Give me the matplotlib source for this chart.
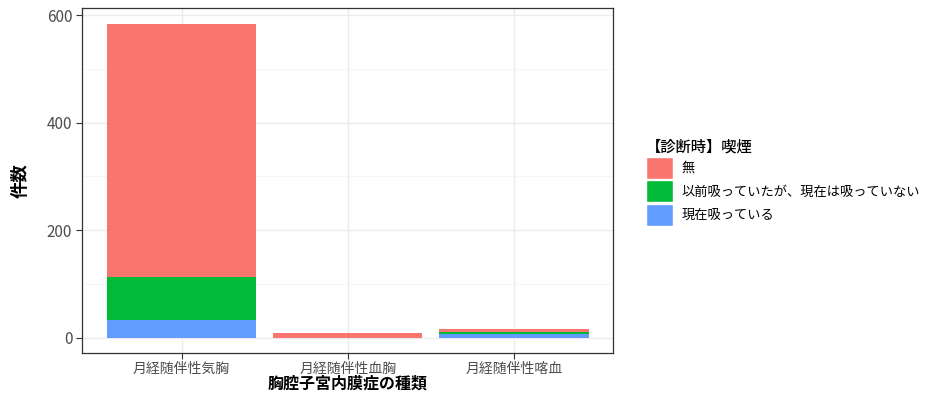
import matplotlib.pyplot as plt
from matplotlib.patches import Patch
from matplotlib.ticker import MultipleLocator

plt.rcParams['font.family'] = ['Noto Sans CJK JP', 'DejaVu Sans']

# データ
categories = ['月経随伴性気胸', '月経随伴性血胸', '月経随伴性喀血']
groups = ['無', '以前吸っていたが、現在は吸っていない', '現在吸っている']
current = [33, 0, 6]    # 現在吸っている
former = [79, 0, 5]     # 以前吸っていたが、現在は吸っていない
never = [472, 8, 6]     # 無
colors = ['#F8766D', '#00BA38', '#619CFF']

fig = plt.figure(figsize=(9.39, 3.98), dpi=100)
ax = fig.add_axes([0.0873, 0.112, 0.566, 0.868])

x = range(len(categories))
# 下から 現在 → 以前 → 無 の順に積み上げ
ax.bar(x, current, width=0.9, color=colors[2], zorder=3)
ax.bar(x, former, width=0.9, bottom=current, color=colors[1], zorder=3)
base = [c + f for c, f in zip(current, former)]
ax.bar(x, never, width=0.9, bottom=base, color=colors[0], zorder=3)

total = max(b + n for b, n in zip(base, never))
ax.set_xlim(-0.6, len(categories) - 0.4)
ax.set_ylim(-0.05 * total, total * 1.05)

ax.set_xticks(list(x))
ax.set_xticklabels(categories, fontsize=10, color='#4d4d4d')
ax.yaxis.set_major_locator(MultipleLocator(200))
ax.yaxis.set_minor_locator(MultipleLocator(100))
ax.tick_params(axis='y', labelsize=11, labelcolor='#4d4d4d', pad=3)
ax.tick_params(axis='x', pad=2)
ax.tick_params(which='major', length=4, color='#333333', width=0.8)
ax.tick_params(which='minor', length=0)

ax.grid(which='major', color='#ebebeb', linewidth=1, zorder=0)
ax.grid(which='minor', axis='y', color='#f4f4f4', linewidth=0.6, zorder=0)
for s in ax.spines.values():
    s.set_color('#333333')
    s.set_linewidth(0.9)

ax.set_xlabel('胸腔子宮内膜症の種類', fontsize=11.5, fontweight='bold', labelpad=0)
ax.set_ylabel('件数', fontsize=12.5, fontweight='bold', labelpad=12)

handles = [Patch(facecolor=c, edgecolor='white') for c in colors]
leg = fig.legend(handles, groups, title='【診断時】喫煙', loc='upper left',
                 bbox_to_anchor=(0.682, 0.665), frameon=False, fontsize=9.5,
                 title_fontproperties={'size': 11, 'weight': 'medium'},
                 handlelength=2.1, handleheight=2.2, handletextpad=0.6,
                 labelspacing=0.1, borderaxespad=0)
leg._legend_box.align = 'left'

plt.savefig('out.png', dpi=100)
plt.close()
